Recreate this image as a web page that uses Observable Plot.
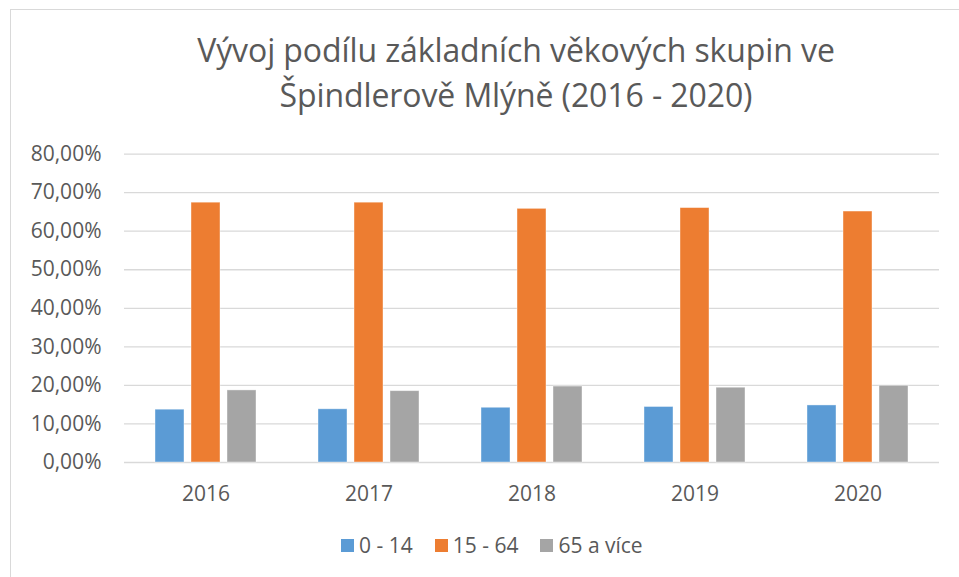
<!DOCTYPE html>
<html>
<head>
<meta charset="utf-8">
<script src="https://cdn.jsdelivr.net/npm/d3@7"></script>
<script src="https://cdn.jsdelivr.net/npm/@observablehq/plot@0.6"></script>
<style>
  body { margin: 0; background: #fff; font-family: "Open Sans", sans-serif; }
  #wrap { position: relative; width: 959px; height: 577px; overflow: hidden; background: #fff; }
  #frame { position: absolute; left: 10px; top: 9px; width: 1000px; height: 700px; border: 1px solid #d9d9d9; box-sizing: border-box; }
  #title { position: absolute; left: 0; top: 27px; width: 1032px; text-align: center; font-size: 32px; line-height: 45px; color: #595959; letter-spacing: -0.1px; }
  #chart { position: absolute; left: 0; top: 130px; }
  #legend { position: absolute; left: 341px; top: 531px; display: flex; align-items: center; font-size: 21px; color: #595959; white-space: nowrap; }
  .item { display: flex; align-items: center; margin-right: 22px; }
  .sw { width: 13px; height: 13px; margin-right: 5px; }
</style>
</head>
<body>
<div id="wrap">
  <div id="frame"></div>
  <div id="title">Vývoj podílu základních věkových skupin ve<br>Špindlerově Mlýně (2016 - 2020)</div>
  <div id="chart"></div>
  <div id="legend"></div>
</div>
<script>
const years = ["2016", "2017", "2018", "2019", "2020"];
const groups = ["0 - 14", "15 - 64", "65 a více"];
const colors = ["#5b9bd5", "#ed7d31", "#a5a5a5"];
const age0_14 = [13.7, 13.8, 14.2, 14.4, 14.8];
const age15_64 = [67.4, 67.4, 65.8, 66.0, 65.1];
const age65plus = [18.7, 18.5, 19.7, 19.4, 19.9];
const yTicks = [0, 10, 20, 30, 40, 50, 60, 70, 80];

const series = [age0_14, age15_64, age65plus];
const data = [];
years.forEach((yr, i) => {
  groups.forEach((g, j) => data.push({ year: yr, group: g, value: series[j][i] }));
});

const fmt = d => d.toFixed(2).replace(".", ",") + "%";

const plot = Plot.plot({
  width: 959,
  height: 390,
  marginTop: 23.6,
  marginBottom: 58,
  marginLeft: 122,
  marginRight: 18,
  style: { fontFamily: "'Open Sans', sans-serif", fontSize: "21px", color: "#595959", background: "transparent" },
  fx: { domain: years, padding: 0, label: null },
  x: { domain: groups, paddingInner: 0.2, paddingOuter: 0.85, axis: null },
  y: { domain: [0, 80], label: null },
  color: { domain: groups, range: colors },
  marks: [
    Plot.ruleY(yTicks, { stroke: "#d9d9d9", strokeWidth: 1.3 }),
    Plot.axisY({ ticks: yTicks, tickFormat: fmt, tickSize: 0, tickPadding: 23, label: null, fill: "#595959" }),
    Plot.axisFx({ anchor: "bottom", tickSize: 0, tickPadding: 24, label: null, fill: "#595959" }),
    Plot.barY(data, { fx: "year", x: "group", y: "value", fill: "group", stroke: "#ffffff", strokeOpacity: 0.5, strokeWidth: 0.8 })
  ]
});
document.getElementById("chart").appendChild(plot);

const legend = document.getElementById("legend");
groups.forEach((g, i) => {
  const item = document.createElement("div");
  item.className = "item";
  const sw = document.createElement("div");
  sw.className = "sw";
  sw.style.background = colors[i];
  const tx = document.createElement("span");
  tx.textContent = g;
  item.appendChild(sw);
  item.appendChild(tx);
  legend.appendChild(item);
});
</script>
</body>
</html>
